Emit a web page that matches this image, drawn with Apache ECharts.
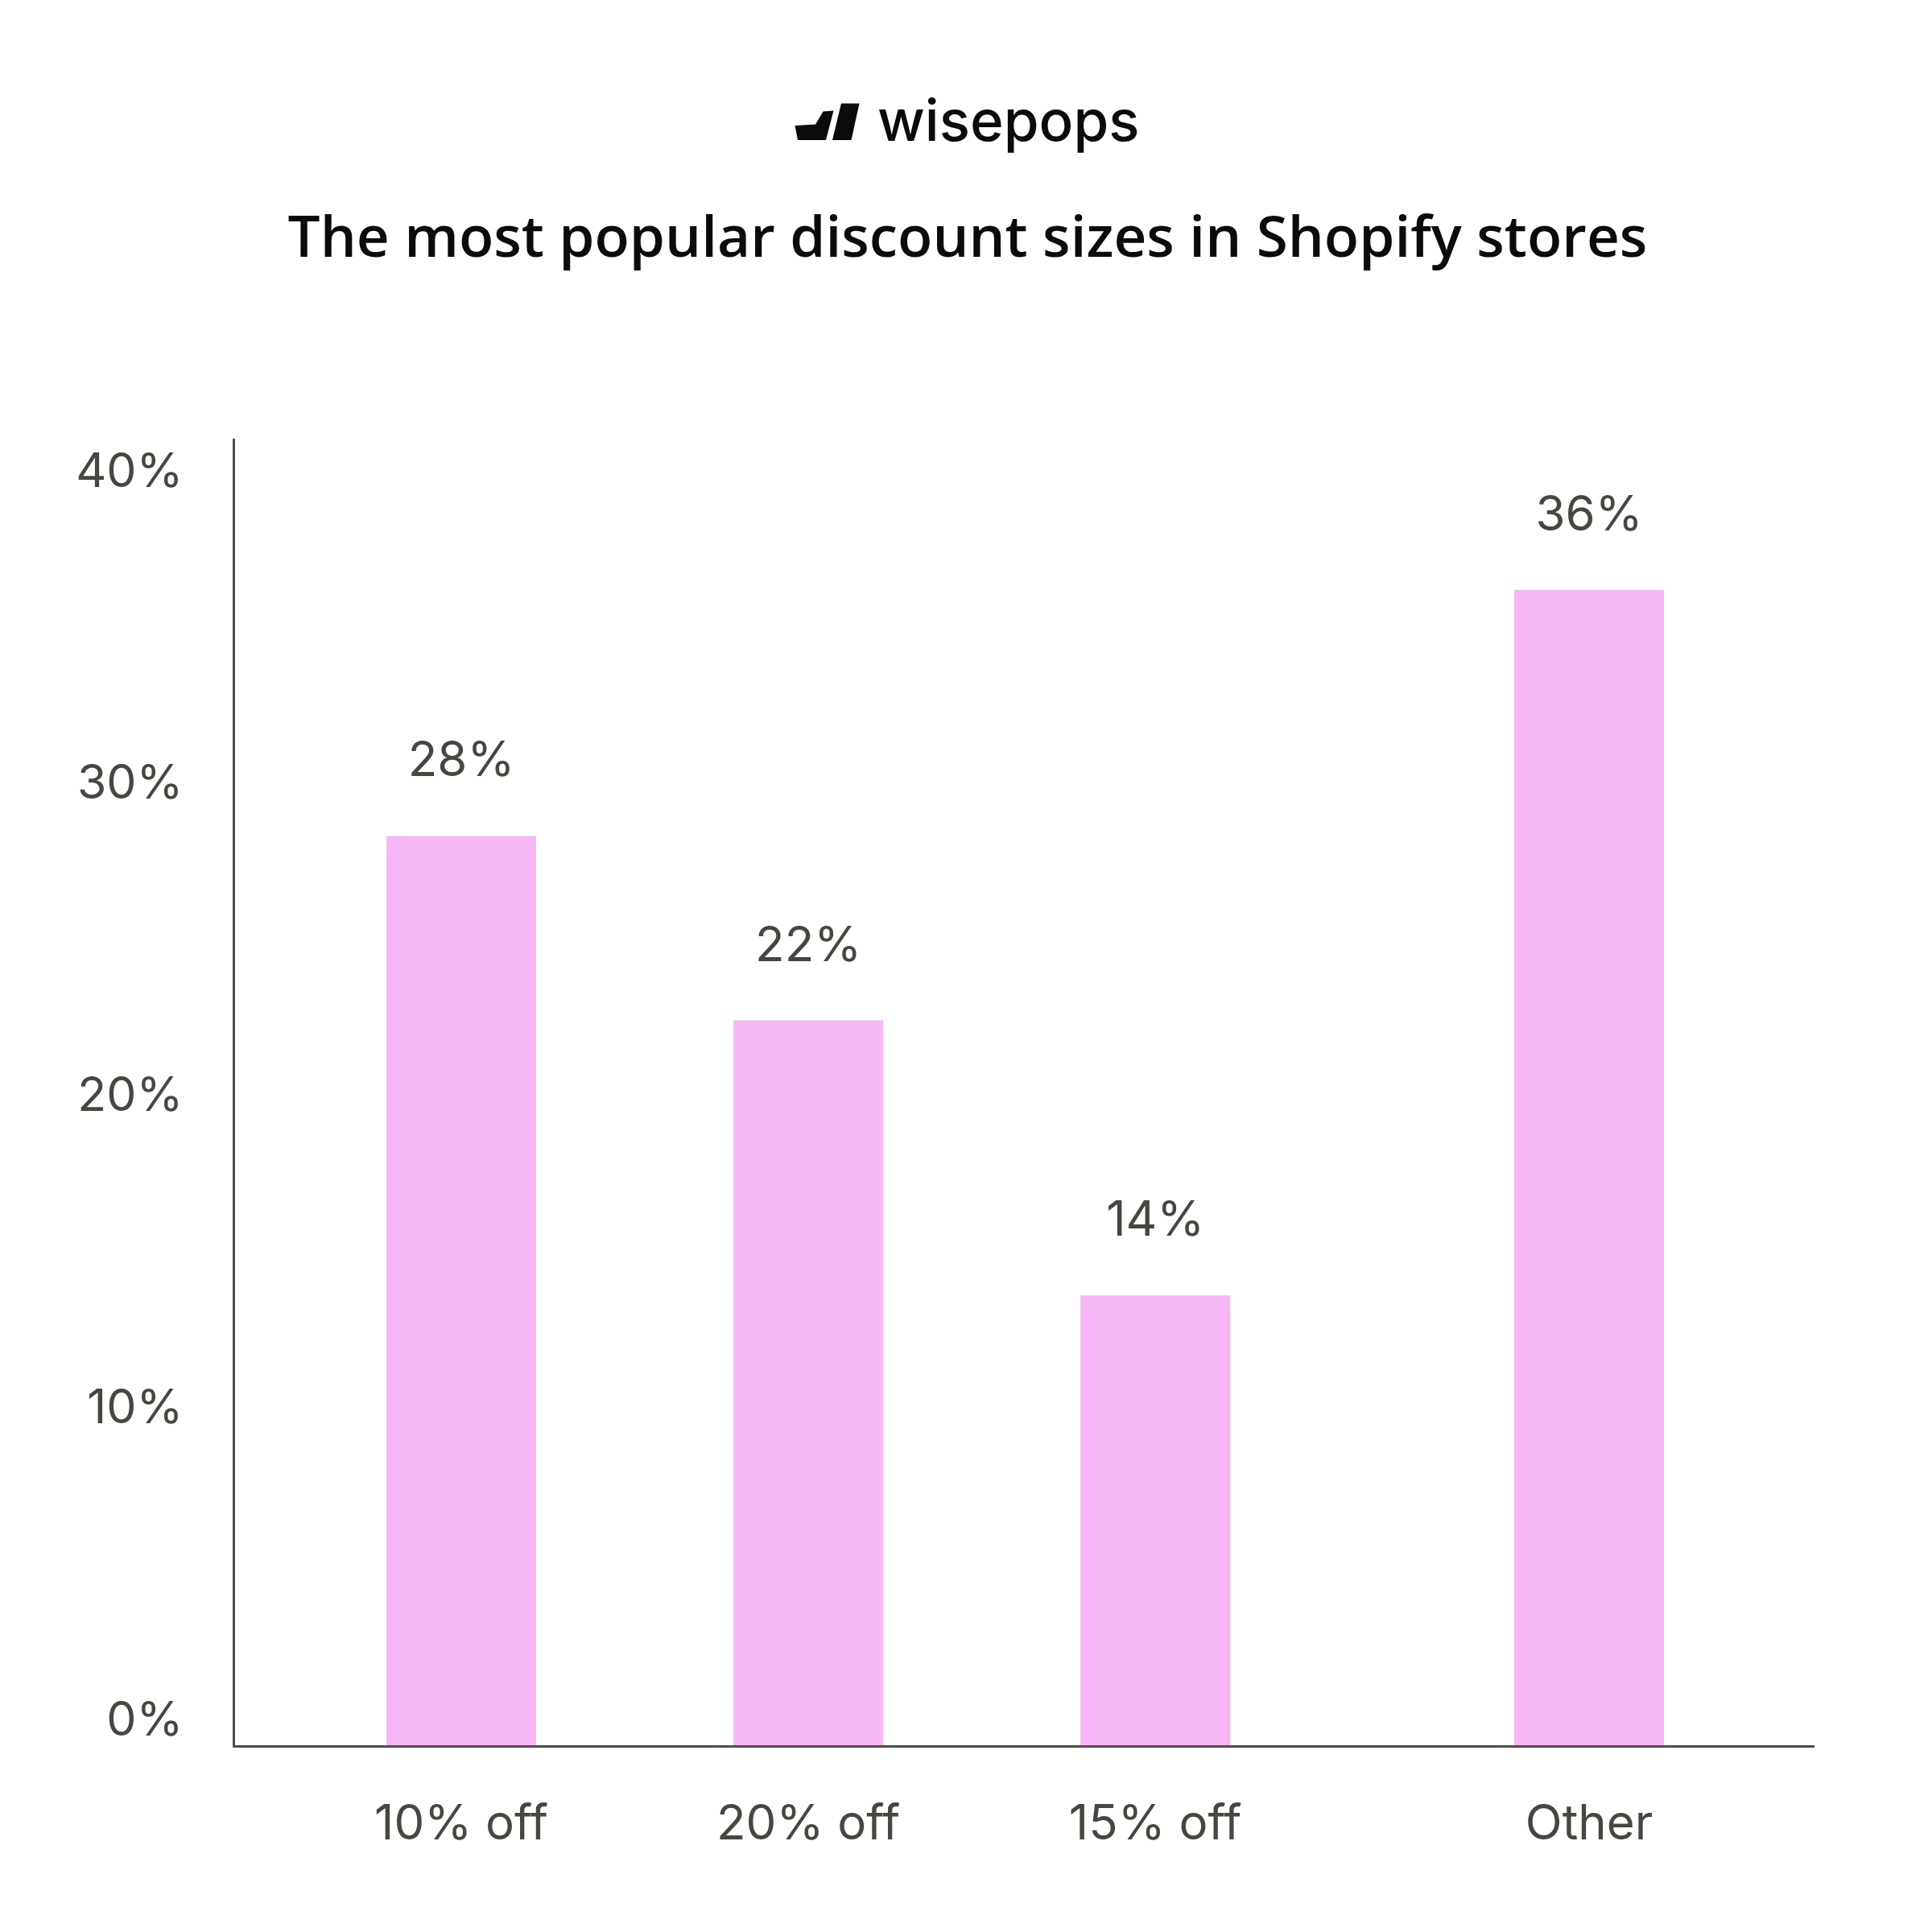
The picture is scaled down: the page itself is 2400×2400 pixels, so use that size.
<!DOCTYPE html>
<html>
<head>
<meta charset="utf-8">
<script src="https://cdn.jsdelivr.net/npm/echarts@6/dist/echarts.min.js"></script>
<style>
  html, body { margin: 0; padding: 0; background: #ffffff; }
  #chart { width: 2400px; height: 2400px; }
</style>
</head>
<body>
<div id="chart"></div>
<script>
// ---- data ----
const categories = ['10% off', '20% off', '15% off', 'Other'];
const shares = [28.1, 22.4, 13.9, 35.7];          // bar heights (%)
const shareLabels = ['28%', '22%', '14%', '36%'];  // printed value labels
const yTickLabels = ['0%', '10%', '20%', '30%', '40%'];
const titleText = 'The most popular discount sizes in Shopify stores';
const brandText = 'wisepops';

// ---- layout (slots on the category axis; "Other" sits one slot further away) ----
const slotOf = [2, 6, 10, 15];
const slotCount = 18;

const slotNames = new Array(slotCount).fill('');
const slotValues = new Array(slotCount).fill(null);
categories.forEach((c, i) => { slotNames[slotOf[i]] = c; });
shares.forEach((v, i) => { slotValues[slotOf[i]] = { value: v, labelText: shareLabels[i] }; });

const TEXT = '#47463f';
const AXIS = '#4f4e47';
const PINK = '#f7b6f6';

const chart = echarts.init(document.getElementById('chart'), null, { renderer: 'canvas' });

const option = {
  backgroundColor: '#ffffff',
  animation: false,
  grid: [
    // bars
    { left: 303.6, width: 1939.9, top: 560, bottom: 232, containLabel: false },
    // axis lines
    { left: 290.5, right: 147, top: 546, bottom: 231, containLabel: false },
    // y tick labels
    { left: 290.5, right: 147, top: 587, bottom: 262, containLabel: false }
  ],
  xAxis: [
    {
      gridIndex: 0, type: 'category', data: slotNames, boundaryGap: true,
      axisLine: { show: false }, axisTick: { show: false }, splitLine: { show: false },
      axisLabel: {
        interval: 0, margin: 69, fontSize: 60, lineHeight: 60,
        fontFamily: 'Inter', fontWeight: 400, color: TEXT
      }
    },
    {
      gridIndex: 1, type: 'value', min: 0, max: 1,
      axisLine: { show: true, lineStyle: { color: AXIS, width: 3 } },
      axisTick: { show: false }, axisLabel: { show: false }, splitLine: { show: false }
    },
    {
      gridIndex: 2, type: 'value', min: 0, max: 1, show: false
    }
  ],
  yAxis: [
    {
      gridIndex: 0, type: 'value', min: 0, max: 40, interval: 10,
      axisLine: { show: false }, axisTick: { show: false },
      axisLabel: { show: false }, splitLine: { show: false }
    },
    {
      gridIndex: 1, type: 'value', min: 0, max: 1,
      axisLine: { show: true, lineStyle: { color: AXIS, width: 3 } },
      axisTick: { show: false }, axisLabel: { show: false }, splitLine: { show: false }
    },
    {
      gridIndex: 2, type: 'value', min: 0, max: 40, interval: 10,
      axisLine: { show: false }, axisTick: { show: false }, splitLine: { show: false },
      axisLabel: {
        margin: 63, fontSize: 59, fontFamily: 'Inter', fontWeight: 400, color: TEXT,
        formatter: (v) => yTickLabels[Math.round(v / 10)]
      }
    }
  ],
  series: [
    {
      type: 'bar',
      xAxisIndex: 0, yAxisIndex: 0,
      data: slotValues,
      barWidth: 186,
      itemStyle: { color: PINK },
      label: {
        show: true, position: 'top', distance: 62,
        fontSize: 60, lineHeight: 60, fontFamily: 'Inter', fontWeight: 400, color: TEXT,
        formatter: (p) => (p.data && p.data.labelText) ? p.data.labelText : ''
      },
      silent: true
    }
  ],
  graphic: [
    {
      type: 'text', x: 1202, y: 299,
      style: {
        text: titleText, fontFamily: 'Open Sans', fontWeight: 600, fontSize: 71,
        fill: '#0b0b0b', align: 'center', verticalAlign: 'middle'
      }
    },
    {
      type: 'text', x: 1090, y: 154,
      style: {
        text: brandText, fontFamily: 'Inter', fontWeight: 500, fontSize: 71,
        fill: '#0b0b0b', align: 'left', verticalAlign: 'middle'
      }
    },
    {
      type: 'polygon',
      shape: { points: [[987.5, 156], [1013, 154.5], [1022.5, 138.5], [1035.5, 137.5], [1026, 174], [991, 174]] },
      style: { fill: '#0b0b0b' }
    },
    {
      type: 'polygon',
      shape: { points: [[1045, 128.5], [1067.5, 128.5], [1057.5, 174], [1034, 174]] },
      style: { fill: '#0b0b0b' }
    }
  ]
};

chart.setOption(option);
</script>
</body>
</html>
